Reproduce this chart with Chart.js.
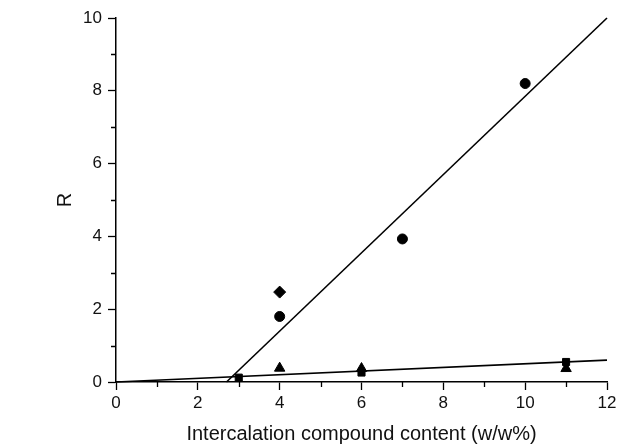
<!DOCTYPE html>
<html>
<head>
<meta charset="utf-8">
<script src="https://cdn.jsdelivr.net/npm/chart.js@4.4.1/dist/chart.umd.min.js"></script>
<style>
  html, body { margin: 0; padding: 0; background: #fff; }
  #wrap { width: 620px; height: 446px; }
</style>
</head>
<body>
<div id="wrap"><canvas id="chart" width="620" height="446"></canvas></div>
<script>
// valores
const circleX = [4, 7, 10];
const circleY = [1.8, 3.93, 8.2];
const diamondX = [4];
const diamondY = [2.47];
const triangleX = [4, 6, 11];
const triangleY = [0.38, 0.37, 0.37];
const squareX = [3, 6, 11];
const squareY = [0.12, 0.26, 0.55];
const fitSteepX = [2.7, 12];
const fitSteepY = [0, 10];
const fitFlatX = [0, 12];
const fitFlatY = [0, 0.6];
const xTicks = [0, 2, 4, 6, 8, 10, 12];
const yTicks = [0, 2, 4, 6, 8, 10];

const pts = (xs, ys) => xs.map((x, i) => ({ x: x, y: ys[i] }));

// ticks menores (a cada 1 unidade)
const minorTicks = {
    id: 'minorTicks',
    afterDraw(chart) {
        const c = chart.ctx;
        const xs = chart.scales.x, ys = chart.scales.y;
        c.save();
        c.strokeStyle = '#000';
        c.lineWidth = 1.3;
        c.beginPath();
        for (let v = 1; v < 12; v += 2) {
            const px = Math.round(xs.getPixelForValue(v)) + 0.5;
            c.moveTo(px, xs.top);
            c.lineTo(px, xs.top + 5);
        }
        for (let v = 1; v < 10; v += 2) {
            const py = Math.round(ys.getPixelForValue(v)) + 0.5;
            c.moveTo(ys.right, py);
            c.lineTo(ys.right - 5, py);
        }
        c.stroke();
        c.restore();
    }
};

const mark = { borderColor: '#000', backgroundColor: '#000', showLine: false };
const font = 'Liberation Sans, Arial, sans-serif';

new Chart(document.getElementById('chart').getContext('2d'), {
    type: 'scatter',
    data: {
        datasets: [
            { data: pts(fitSteepX, fitSteepY), showLine: true, borderColor: '#000', borderWidth: 1.6, pointRadius: 0, clip: false },
            { data: pts(fitFlatX, fitFlatY), showLine: true, borderColor: '#000', borderWidth: 1.6, pointRadius: 0, clip: false },
            { ...mark, data: pts(circleX, circleY), pointStyle: 'circle', pointRadius: 5 },
            { ...mark, data: pts(diamondX, diamondY), pointStyle: 'rectRot', pointRadius: 6 },
            { ...mark, data: pts(triangleX, triangleY), pointStyle: 'triangle', pointRadius: 6 },
            { ...mark, data: pts(squareX, squareY), pointStyle: 'rect', pointRadius: 5 }
        ]
    },
    options: {
        responsive: false,
        animation: false,
        layout: { padding: { top: 18, right: 13 } },
        plugins: { legend: { display: false }, tooltip: { enabled: false } },
        scales: {
            x: {
                type: 'linear', min: 0, max: 12,
                afterBuildTicks: (s) => { s.ticks = xTicks.map(v => ({ value: v })); },
                afterFit: (s) => { s.height = 64; },
                grid: { drawOnChartArea: false, tickLength: 8, tickColor: '#000', tickWidth: 1.3 },
                border: { color: '#000', width: 1.5 },
                ticks: { color: '#111', font: { family: font, size: 17 }, padding: 3 },
                title: { display: true, text: 'Intercalation compound content (w/w%)', color: '#111',
                         font: { family: font, size: 20 }, padding: { top: 0, bottom: 0 } }
            },
            y: {
                type: 'linear', min: 0, max: 10,
                afterBuildTicks: (s) => { s.ticks = yTicks.map(v => ({ value: v })); },
                afterFit: (s) => { s.width = 116; },
                grid: { drawOnChartArea: false, tickLength: 8, tickColor: '#000', tickWidth: 1.3 },
                border: { color: '#000', width: 1.5 },
                ticks: { color: '#111', font: { family: font, size: 17 }, padding: 6 },
                title: { display: true, text: 'R', color: '#111',
                         font: { family: font, size: 20 }, padding: { top: 53, bottom: 0 } }
            }
        }
    },
    plugins: [minorTicks]
});
</script>
</body>
</html>
